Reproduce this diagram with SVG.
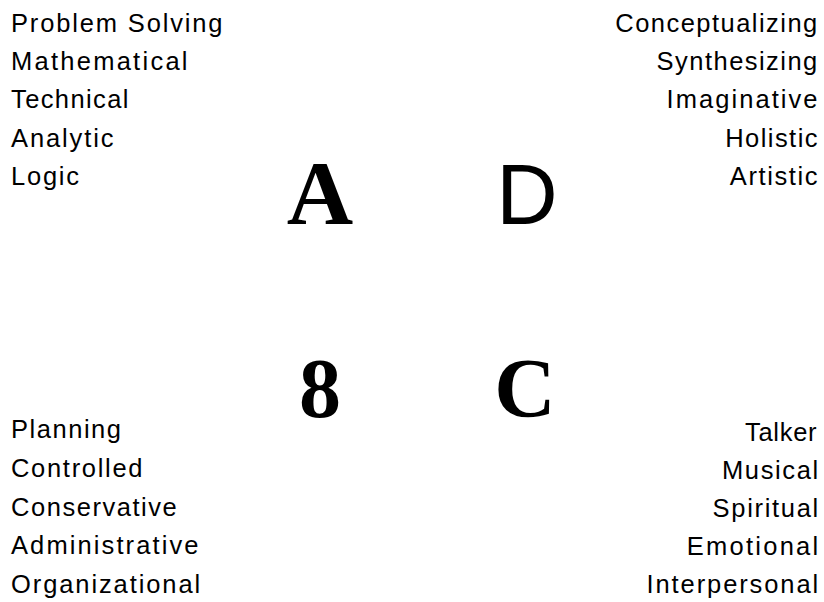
<svg xmlns="http://www.w3.org/2000/svg" width="824" height="602" viewBox="0 0 824 602">
<style>
.t{font-family:"Liberation Sans",Arial,sans-serif;font-size:25.5px;fill:#000}
.big{font-family:"Liberation Serif","Times New Roman",serif;font-weight:bold;fill:#000;text-anchor:middle}
.bigs{font-family:"Liberation Sans",Arial,sans-serif;fill:#000;text-anchor:middle}
</style>
<rect width="824" height="602" fill="#fff"/>
<g id="quad-A">
<text class="t" x="11" y="31.7" textLength="211.5" lengthAdjust="spacing">Problem Solving</text>
<text class="t" x="11" y="70" textLength="176.5" lengthAdjust="spacing">Mathematical</text>
<text class="t" x="11" y="108.3" textLength="117.5" lengthAdjust="spacing">Technical</text>
<text class="t" x="11" y="146.7" textLength="102.5" lengthAdjust="spacing">Analytic</text>
<text class="t" x="11" y="185" textLength="68" lengthAdjust="spacing">Logic</text>
<text class="big" x="320" y="224" font-size="92">A</text>
</g>
<g id="quad-D">
<text class="t" x="615.3" y="31.7" textLength="202" lengthAdjust="spacing">Conceptualizing</text>
<text class="t" x="656.6" y="70" textLength="160.7" lengthAdjust="spacing">Synthesizing</text>
<text class="t" x="666.5" y="108.3" textLength="151" lengthAdjust="spacing">Imaginative</text>
<text class="t" x="725.2" y="146.7" textLength="92.3" lengthAdjust="spacing">Holistic</text>
<text class="t" x="729.8" y="185" textLength="87.7" lengthAdjust="spacing">Artistic</text>
<text class="bigs" x="527" y="224" font-size="85">D</text>
</g>
<g id="quad-B">
<text class="t" x="11" y="438.3" textLength="110" lengthAdjust="spacing">Planning</text>
<text class="t" x="11" y="477" textLength="131.5" lengthAdjust="spacing">Controlled</text>
<text class="t" x="11" y="515.7" textLength="165.8" lengthAdjust="spacing">Conservative</text>
<text class="t" x="11" y="554.3" textLength="187.5" lengthAdjust="spacing">Administrative</text>
<text class="t" x="11" y="593" textLength="189.2" lengthAdjust="spacing">Organizational</text>
<text class="big" x="320" y="416.7" font-size="84">8</text>
</g>
<g id="quad-C">
<text class="t" x="744.9" y="440.7" textLength="71.7" lengthAdjust="spacing">Talker</text>
<text class="t" x="722" y="478.8" textLength="96.2" lengthAdjust="spacing">Musical</text>
<text class="t" x="712.6" y="517" textLength="105.6" lengthAdjust="spacing">Spiritual</text>
<text class="t" x="686.8" y="555.2" textLength="131.4" lengthAdjust="spacing">Emotional</text>
<text class="t" x="646.5" y="593.3" textLength="171.7" lengthAdjust="spacing">Interpersonal</text>
<text class="big" x="525" y="416.7" font-size="85">C</text>
</g>
<g id="connectors"></g>
</svg>
